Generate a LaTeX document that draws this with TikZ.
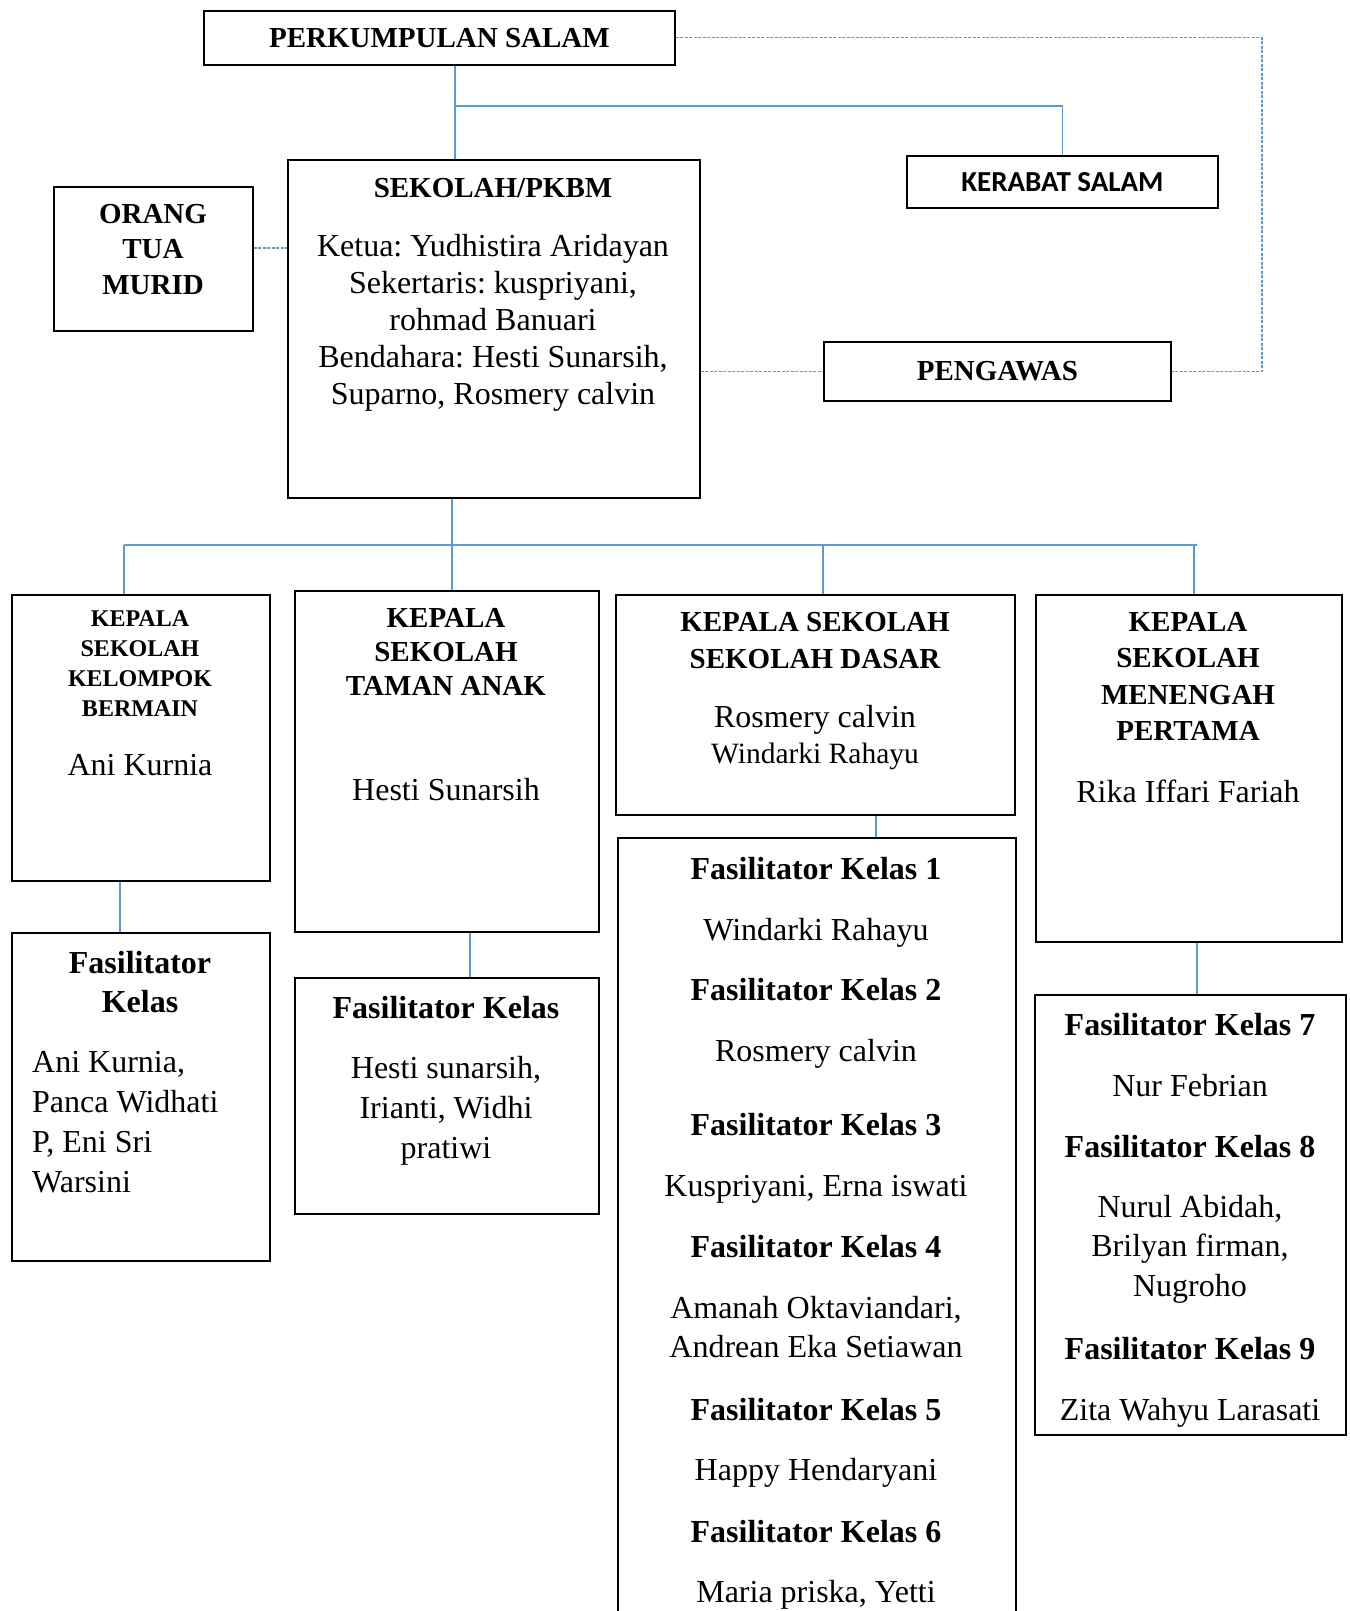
\documentclass[tikz,border=0pt]{standalone}
\usepackage{fontspec}
\setmainfont{Liberation Serif}
\newfontfamily\sansfont{Carlito}
\frenchspacing
\definecolor{linkblue}{RGB}{91,155,213}
\tikzset{
	box/.style={draw, line width=1.8pt, inner sep=0pt, anchor=north west},
	head/.style={inner sep=0pt, align=center, font=\bfseries\fontsize{29}{36}\selectfont},
	smallhead/.style={inner sep=0pt, align=center, font=\bfseries\fontsize{24}{30}\selectfont},
	sanshead/.style={inner sep=0pt, align=center, font=\sansfont\bfseries\fontsize{29}{36}\selectfont},
	body/.style={inner sep=0pt, align=center, font=\fontsize{32}{37}\selectfont},
	fachead/.style={inner sep=0pt, align=center, font=\bfseries\fontsize{32}{39}\selectfont},
	facbody/.style={inner sep=0pt, align=center, font=\fontsize{32}{40}\selectfont},
	link/.style={draw=linkblue, line width=1.5pt},
	dlink/.style={draw=linkblue, line width=1.2pt, dash pattern=on 3pt off 1.5pt}
}
\newcommand{\orgbox}[6][]{%
	\node[box, #1, minimum width=#4pt, minimum height=#5pt] (#2) at (#3) {#6};
}

\begin{document}
\begin{tikzpicture}[x=1pt, y=-1pt, line cap=butt, line join=miter]
	\useasboundingbox (0,0) rectangle (1349,1611);
	
	% Top level
	\orgbox[head]{perkumpulan}{203,10}{471}{54}{PERKUMPULAN SALAM}
	\orgbox[sanshead]{kerabat}{906,155}{311}{52}{KERABAT SALAM}
	\orgbox[head]{pengawas}{823,341}{347}{59}{PENGAWAS}
	\orgbox{orangtua}{53,186}{199}{144}{}
	\orgbox{sekolah}{287,159}{412}{338}{}
	
	\node[head, anchor=north, font=\bfseries\fontsize{29}{35.5}\selectfont] (orangtuajudul) at (153,204) {ORANG\\TUA\\MURID};
	\node[head, anchor=base] (sekolahjudul) at (493,197) {SEKOLAH/PKBM};
	\node[body, anchor=north] (sekolahisi) at (493,234) {Ketua: Yudhistira Aridayan\\Sekertaris: kuspriyani,\\rohmad Banuari\\Bendahara: Hesti Sunarsih,\\Suparno, Rosmery calvin};
	
	% Kepala sekolah
	\orgbox{kb}{11,594}{258}{286}{}
	\orgbox{tk}{294,590}{304}{341}{}
	\orgbox{sd}{615,594}{399}{220}{}
	\orgbox{smp}{1035,594}{306}{347}{}
	
	\node[smallhead, anchor=north] (kbjudul) at (140,610) {KEPALA\\SEKOLAH\\KELOMPOK\\BERMAIN};
	\node[body, anchor=base] (kbisi) at (140,775) {Ani Kurnia};
	\node[head, anchor=north, font=\bfseries\fontsize{29}{34}\selectfont] (tkjudul) at (446,608) {KEPALA\\SEKOLAH\\TAMAN ANAK};
	\node[body, anchor=base] (tkisi) at (446,800) {Hesti Sunarsih};
	\node[head, anchor=north, font=\bfseries\fontsize{29}{37}\selectfont] (sdjudul) at (815,612) {KEPALA SEKOLAH\\SEKOLAH DASAR};
	\node[body, anchor=base] (sdisi) at (815,727) {Rosmery calvin};
	\node[body, anchor=base, font=\fontsize{29.5}{36}\selectfont] (sdisi2) at (815,763) {Windarki Rahayu};
	\node[head, anchor=north, font=\bfseries\fontsize{29}{36.5}\selectfont] (smpjudul) at (1188,612) {KEPALA\\SEKOLAH\\MENENGAH\\PERTAMA};
	\node[body, anchor=base] (smpisi) at (1188,802) {Rika Iffari Fariah};
	
	% Fasilitator
	\orgbox{kbfas}{11,932}{258}{328}{}
	\orgbox{tkfas}{294,977}{304}{236}{}
	\orgbox{sdfas}{617,837}{398}{820}{}
	\orgbox{smpfas}{1034,994}{311}{440}{}
	
	\node[fachead, anchor=north] (kbfasjudul) at (140,951) {Fasilitator\\Kelas};
	\node[facbody, anchor=north west, align=left] (kbfasisi) at (32,1051) {Ani Kurnia,\\Panca Widhati\\P, Eni Sri\\Warsini};
	\node[fachead, anchor=base] (tkfasjudul) at (446,1018) {Fasilitator Kelas};
	\node[facbody, anchor=north] (tkfasisi) at (446,1056) {Hesti sunarsih,\\Irianti, Widhi\\pratiwi};
	
	\foreach \i/\y in {1/879, 2/1000, 3/1135, 4/1257, 5/1420, 6/1542}
	{
		\node[fachead, anchor=base] (sdkelas\i) at (816,\y) {Fasilitator Kelas \i};
	}
	\node[facbody, anchor=base] (sdnama1) at (816,940) {Windarki Rahayu};
	\node[facbody, anchor=base] (sdnama2) at (816,1061) {Rosmery calvin};
	\node[facbody, anchor=base] (sdnama3) at (816,1196) {Kuspriyani, Erna iswati};
	\node[facbody, anchor=north, font=\fontsize{32}{39}\selectfont] (sdnama4) at (816,1296) {Amanah Oktaviandari,\\Andrean Eka Setiawan};
	\node[facbody, anchor=base] (sdnama5) at (816,1480) {Happy Hendaryani};
	\node[facbody, anchor=base] (sdnama6) at (816,1602) {Maria priska, Yetti};
	
	\foreach \i/\y in {7/1035, 8/1157, 9/1359}
	{
		\node[fachead, anchor=base] (smpkelas\i) at (1190,\y) {Fasilitator Kelas \i};
	}
	\node[facbody, anchor=base] (smpnama7) at (1190,1096) {Nur Febrian};
	\node[facbody, anchor=north, font=\fontsize{32}{39.5}\selectfont] (smpnama8) at (1190,1195) {Nurul Abidah,\\Brilyan firman,\\Nugroho};
	\node[facbody, anchor=base] (smpnama9) at (1190,1420) {Zita Wahyu Larasati};
	
	% Solid connectors
	\coordinate (pTop) at (455,106);
	\draw[link] (perkumpulan.south -| pTop) -- (sekolah.north -| pTop);
	\draw[link] (pTop) -| (kerabat.north);
	
	\coordinate (busL) at (124,545);
	\coordinate (busR) at (1197,545);
	\draw[link] (sekolah.south -| 452,0) -- (busL -| 452,0);
	\draw[link] (busL) -- (busR);
	\foreach \b/\x in {kb/124, tk/452, sd/823, smp/1194}
	{
		\draw[link] (busL -| \x,0) -- (\b.north -| \x,0);
	}
	\foreach \a/\b/\x in {kb/kbfas/120, tk/tkfas/470, sd/sdfas/876, smp/smpfas/1197}
	{
		\draw[link] (\a.south -| \x,0) -- (\b.north -| \x,0);
	}
	
	% Dashed connectors
	\draw[dlink] (orangtua.east |- 0,248) -- (sekolah.west |- 0,248);
	\draw[dlink] (sekolah.east |- pengawas.west) -- (pengawas.west);
	\coordinate (dR) at (1262,200);
	\draw[dlink] (perkumpulan.east) -| (dR) |- (pengawas.east);
\end{tikzpicture}
\end{document}
